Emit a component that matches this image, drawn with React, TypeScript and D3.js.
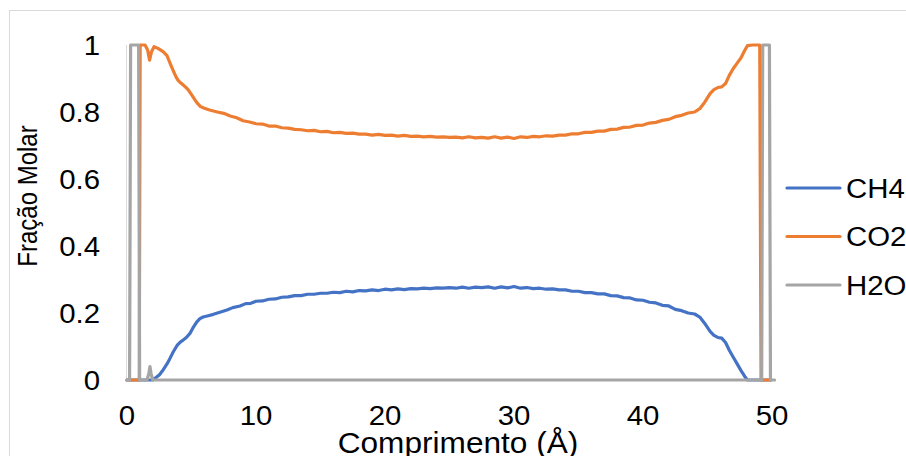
import React from "react";
import * as d3 from "d3";

const yTicks = [0, 0.2, 0.4, 0.6, 0.8, 1];
const xTicks = [0, 10, 20, 30, 40, 50];

const co2X = [0, 0.35, 0.95, 1.02, 1.4, 1.6, 1.75, 1.9, 2.1, 2.4, 2.8, 3.1, 3.4, 3.6, 3.8, 3.95, 4.15, 4.35, 4.55, 4.75, 5.0, 5.27, 5.5, 5.7, 6.0, 6.4, 7.0, 7.5, 8.0, 8.5, 9.0, 9.5,
  10, 10.5, 11, 11.5, 12, 12.5, 13, 13.5, 14, 14.5, 15, 15.5, 16, 16.5, 17, 17.5, 18, 18.5, 19, 19.5, 20, 20.5, 21, 21.5, 22, 22.5, 23, 23.5, 24, 24.5, 25, 25.5, 26, 26.5, 27, 27.5, 28, 28.5, 29, 29.5, 30, 30.5, 31, 31.5, 32, 32.5, 33, 33.5, 34, 34.5, 35, 35.5, 36, 36.5, 37, 37.5, 38, 38.5, 39, 39.5, 40, 40.5, 41, 41.5, 42, 42.5, 43, 43.5, 44,
  44.4, 44.8, 45.2, 45.5, 45.8, 46.1, 46.4, 46.7, 47.0, 47.3, 47.6, 47.9, 48.1, 48.5, 49.05, 49.15, 49.5, 49.9];
const co2Y = [0, 0, 0, 1, 1, 0.985, 0.955, 0.98, 0.995, 0.99, 0.98, 0.968, 0.94, 0.922, 0.905, 0.895, 0.887, 0.881, 0.874, 0.866, 0.852, 0.836, 0.824, 0.816, 0.811, 0.806, 0.8, 0.796, 0.788, 0.783, 0.774, 0.77,
  0.765, 0.764, 0.758, 0.758, 0.753, 0.752, 0.748, 0.747, 0.744, 0.745, 0.741, 0.742, 0.738, 0.739, 0.736, 0.737, 0.734, 0.734, 0.731, 0.733, 0.73, 0.731, 0.728, 0.73, 0.727, 0.728, 0.726, 0.727, 0.725, 0.726, 0.724, 0.725, 0.723, 0.726, 0.723, 0.724, 0.722, 0.726, 0.722, 0.725, 0.721, 0.726, 0.724, 0.727, 0.726, 0.729, 0.728, 0.731, 0.731, 0.735, 0.735, 0.739, 0.739, 0.743, 0.743, 0.748, 0.749, 0.754, 0.755, 0.76, 0.761, 0.767, 0.769, 0.775, 0.778, 0.786, 0.79, 0.797, 0.8,
  0.81, 0.83, 0.855, 0.867, 0.873, 0.875, 0.885, 0.91, 0.93, 0.946, 0.962, 0.985, 0.998, 1, 1, 0, 0, 0];

const ch4X = [0, 0.35, 2.0, 2.2, 2.5, 2.8, 3.1, 3.35, 3.6, 3.9, 4.15, 4.35, 4.6, 4.9, 5.15, 5.4, 5.65, 5.9, 6.3, 6.7, 7.2, 7.75, 8.2, 8.76, 9.2, 9.6,
  10, 10.5, 11, 11.5, 12, 12.5, 13, 13.5, 14, 14.5, 15, 15.5, 16, 16.5, 17, 17.5, 18, 18.5, 19, 19.5, 20, 20.5, 21, 21.5, 22, 22.5, 23, 23.5, 24, 24.5, 25, 25.5, 26, 26.5, 27, 27.5, 28, 28.5, 29, 29.5, 30, 30.5, 31, 31.5, 32, 32.5, 33, 33.5, 34, 34.5, 35, 35.5, 36, 36.5, 37, 37.5, 38, 38.5, 39, 39.5, 40, 40.5, 41, 41.5, 42, 42.5, 43, 43.5, 44,
  44.4, 44.8, 45.2, 45.5, 45.8, 46.1, 46.4, 46.7, 47.0, 47.3, 47.6, 47.9, 48.1, 49.15, 49.5, 49.9];
const ch4Y = [0, 0, 0, 0.006, 0.015, 0.03, 0.048, 0.066, 0.085, 0.104, 0.114, 0.119, 0.127, 0.14, 0.158, 0.173, 0.183, 0.188, 0.192, 0.196, 0.202, 0.209, 0.216, 0.221, 0.228, 0.229,
  0.235, 0.236, 0.241, 0.242, 0.247, 0.248, 0.252, 0.252, 0.256, 0.256, 0.259, 0.259, 0.262, 0.261, 0.265, 0.263, 0.267, 0.266, 0.269, 0.267, 0.271, 0.269, 0.272, 0.27, 0.273, 0.272, 0.274, 0.273, 0.275, 0.274, 0.276, 0.274, 0.277, 0.274, 0.277, 0.276, 0.278, 0.274, 0.278, 0.275, 0.279, 0.274, 0.276, 0.273, 0.274, 0.271, 0.272, 0.269, 0.269, 0.265, 0.265, 0.261, 0.261, 0.257, 0.257, 0.252, 0.251, 0.246, 0.245, 0.239, 0.238, 0.232, 0.23, 0.223, 0.221, 0.211, 0.207, 0.2, 0.197,
  0.188, 0.168, 0.145, 0.133, 0.127, 0.125, 0.112, 0.088, 0.068, 0.048, 0.028, 0.01, 0, 0, 0, 0];

const h2oX = [0, 0.2, 0.28, 0.9, 0.98, 1.55, 1.7, 1.78, 1.86, 2.0, 49.2, 49.28, 49.8, 49.88, 50.2];
const h2oY = [0, 0, 1, 1, 0, 0, 0.02, 0.04, 0.02, 0, 0, 1, 1, 0, 0];

const seriesNames = ["CH4", "CO2", "H2O"];
const seriesColors = ["#4472C4", "#ED7D31", "#A5A5A5"];

const W = 906;
const H = 456;
const FONT = "'Liberation Sans', Arial, sans-serif";

export default function App() {
  const x = d3.scaleLinear().domain([0, 50]).range([127, 772]);
  const y = d3.scaleLinear().domain([0, 1]).range([380, 45]);
  const line = d3
    .line<[number, number]>()
    .x((d) => x(d[0]))
    .y((d) => y(d[1]));
  const zip = (a: number[], b: number[]) => a.map((v, i) => [v, b[i]] as [number, number]);
  const series = [zip(ch4X, ch4Y), zip(co2X, co2Y), zip(h2oX, h2oY)];

  const T = (props: any) => {
    const { x: tx, y: ty, rotate, fs = 28, sx = 1.05, children, ...rest } = props;
    return (
      <text
        transform={`translate(${tx},${ty}) scale(${sx},1)${rotate ? ` rotate(${rotate})` : ""}`}
        fontFamily={FONT}
        fontSize={fs}
        fill="#000"
        {...rest}
      >
        {children}
      </text>
    );
  };

  return (
    <svg
      width={W}
      height={H}
      style={{ position: "absolute", left: 0, top: 0, background: "#fff" }}
    >
      <rect x={0} y={0} width={W} height={H} fill="#fff" />
      <rect x={9.5} y={10.5} width={W + 20} height={H + 20} fill="none" stroke="#D9D9D9" strokeWidth={1} />
      <line x1={x(0) - 0.5} x2={x(0) - 0.5} y1={y(1)} y2={y(0)} stroke="#D9D9D9" strokeWidth={1} />
      {yTicks.map((t) => (
        <T key={t} x={100} y={y(t)} textAnchor="end" dy="0.35em">
          {d3.format("")(t)}
        </T>
      ))}
      {xTicks.map((t) => (
        <T key={t} x={x(t)} y={425} textAnchor="middle">
          {t}
        </T>
      ))}
      <T x={458} y={453} textAnchor="middle" fs={29} sx={1.09}>
        Comprimento (Å)
      </T>
      <T x={37} y={196} textAnchor="middle" rotate={-90} fs={24} sx={1.15}>
        Fração Molar
      </T>
      {series.map((s, i) => (
        <path
          key={i}
          d={line(s) || ""}
          fill="none"
          stroke={seriesColors[i]}
          strokeWidth={3.2}
          strokeLinejoin="round"
          strokeLinecap="round"
        />
      ))}
      {seriesNames.map((n, i) => (
        <g key={n}>
          <line
            x1={787}
            x2={840}
            y1={188 + i * 48.5}
            y2={188 + i * 48.5}
            stroke={seriesColors[i]}
            strokeWidth={3.2}
            strokeLinecap="round"
          />
          <T x={846} y={188 + i * 48.5} dy="0.35em">
            {n}
          </T>
        </g>
      ))}
    </svg>
  );
}
